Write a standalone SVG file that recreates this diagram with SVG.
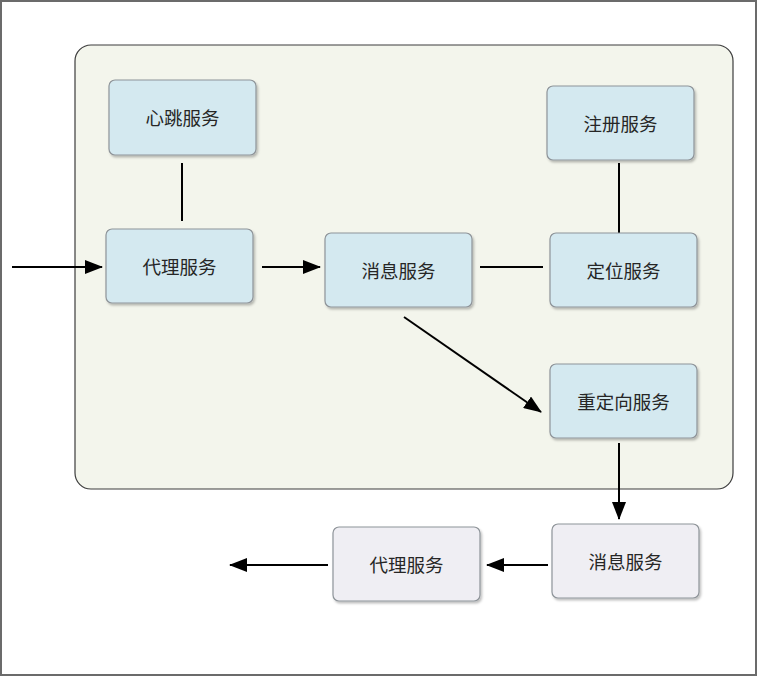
<svg xmlns="http://www.w3.org/2000/svg" width="758" height="677" viewBox="0 0 758 677">
<style>
.node rect{stroke:#8e9499;stroke-width:1.2;filter:url(#sh)}
.blue rect{fill:#d4e9f0}
.grey rect{fill:#efeef3}
.node text{font-family:"Noto Sans CJK SC","Liberation Sans",sans-serif;font-size:18.5px;fill:#262626;text-anchor:middle;dominant-baseline:central}
.c line{stroke:#000;stroke-width:2}
.c .a{marker-end:url(#ah)}
</style>
<defs>
<marker id="ah" markerWidth="18" markerHeight="14" refX="17" refY="7" orient="auto" markerUnits="userSpaceOnUse">
<path d="M0,0 L18,7 L0,14 Z" fill="#000"/>
</marker>
<filter id="sh" x="-10%" y="-10%" width="125%" height="130%">
<feDropShadow dx="1.5" dy="2" stdDeviation="1" flood-color="#000" flood-opacity="0.25"/>
</filter>
</defs>
<rect x="0" y="0" width="758" height="677" fill="#fff"/>
<rect x="1" y="1" width="755" height="674" fill="#fff" stroke="#6b6b6b" stroke-width="2"/>
<rect id="container" x="75" y="45" width="658" height="444" rx="16" fill="#f3f5ec" stroke="#3d3d3d" stroke-width="1.2"/>
<g class="c">
<line x1="182" y1="163" x2="182" y2="221"/>
<line class="a" x1="12" y1="267" x2="102" y2="267"/>
<line class="a" x1="262" y1="267" x2="320" y2="267"/>
<line x1="480" y1="267" x2="543" y2="267"/>
<line x1="619" y1="163" x2="619" y2="233"/>
<line class="a" x1="404" y1="317" x2="541" y2="412"/>
<line class="a" x1="619" y1="443" x2="619" y2="519"/>
<line class="a" x1="548" y1="565" x2="487" y2="565"/>
<line class="a" x1="328" y1="565" x2="230" y2="565"/>
</g>
<g id="heartbeat" class="node blue"><rect x="109" y="80" width="147" height="75" rx="6"/><text x="182.5" y="117">心跳服务</text></g>
<g id="proxy" class="node blue"><rect x="106" y="229" width="147" height="74" rx="6"/><text x="179.5" y="266">代理服务</text></g>
<g id="message" class="node blue"><rect x="325" y="233" width="147" height="74" rx="6"/><text x="398.5" y="270">消息服务</text></g>
<g id="register" class="node blue"><rect x="547" y="86" width="147" height="74" rx="6"/><text x="620.5" y="123">注册服务</text></g>
<g id="locate" class="node blue"><rect x="550" y="233" width="147" height="74" rx="6"/><text x="623.5" y="270">定位服务</text></g>
<g id="redirect" class="node blue"><rect x="550" y="364" width="147" height="74" rx="6"/><text x="623.5" y="401">重定向服务</text></g>
<g id="message2" class="node grey"><rect x="552" y="524" width="147" height="74" rx="6"/><text x="625.5" y="561">消息服务</text></g>
<g id="proxy2" class="node grey"><rect x="333" y="527" width="147" height="74" rx="6"/><text x="406.5" y="564">代理服务</text></g>
</svg>
